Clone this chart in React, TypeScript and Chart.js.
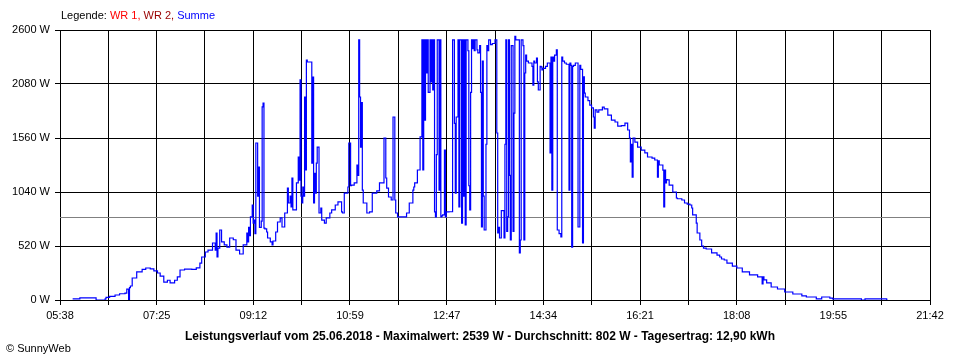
import React, { useEffect, useRef } from 'react';
import { Chart, registerables } from 'chart.js';

Chart.register(...registerables);

// ---- axis / summary data ----
const X_TICK_LABELS = ['05:38', '07:25', '09:12', '10:59', '12:47', '14:34', '16:21', '18:08', '19:55', '21:42'];
const X_MIN = 338; // 05:38 in minutes after midnight
const X_MAX = 1302; // 21:42
const Y_TICKS = [0, 520, 1040, 1560, 2080, 2600];
const AVERAGE_W = 802;
const MAXIMUM_W = 2539;
const DATE = '25.06.2018';
const YIELD_KWH = '12,90';

const SERIES_LABELS = ['WR 1', 'WR 2', 'Summe'];
const SERIES_COLORS = ['#ff0000', '#990000', '#0000ff'];

// ---- Summe (W) by time of day (minutes after midnight) ----
const timesMorning = [
  352, 360, 362, 378, 379, 388, 389, 393, 399, 404,
  410, 412, 413, 414, 415, 416, 418, 423, 429, 433,
  438, 442, 446, 449, 453, 457, 460, 462, 465, 468,
  471, 476, 484, 489, 493, 495, 499, 502, 507, 510,
  511, 512, 513, 515, 517, 520, 523, 526, 530, 533,
  537, 541, 545, 546, 547, 548, 549, 551, 552, 553,
  554, 555, 557, 558, 559, 561, 562, 563, 564, 565,
  567, 568, 571, 573, 574, 577, 579, 582, 584, 587,
  590, 591, 593, 594, 595, 596, 597, 600, 602, 603,
  604, 605, 606, 607, 608, 609, 610, 611, 612, 615,
  617, 618, 619, 620, 621, 622, 623, 625, 627, 628,
  631, 633, 637, 639, 643, 646, 650, 651, 653, 657,
  658, 660, 661, 664, 667, 668, 669, 670, 671, 672,
  673, 674, 678, 681, 684, 689, 692, 697, 699, 700,
  702, 705, 707, 709, 710, 712, 717, 722, 725, 729,
  730, 731, 734, 737, 739,
];
const powerMorning = [
  10, 10, 20, 20, 0, 0, 10, 26, 35, 48,
  60, 67, 104, 104, 0, 120, 135, 212, 270, 295,
  308, 300, 280, 260, 230, 173, 190, 165, 164, 190,
  222, 289, 298, 295, 310, 356, 414, 462, 481, 549,
  480, 645, 414, 500, 674, 560, 530, 510, 597, 580,
  481, 443, 530, 645, 560, 700, 620, 800, 915, 740,
  770, 640, 1512, 1000, 1280, 700, 760, 1860, 1897, 693,
  684, 655, 597, 560, 530, 568, 655, 751, 790, 703,
  838, 1078, 934, 1000, 896, 1175, 867, 867, 1127, 1377,
  1155, 2119, 1000, 934, 1088, 1000, 1955, 1252, 2311, 2292,
  2292, 1319, 2147, 934, 1220, 1030, 1319, 1473, 838, 886,
  770, 741, 790, 838, 867, 915, 944, 848, 838, 1030,
  1088, 1512, 1100, 1107, 1127, 1300, 1200, 2504, 1955, 1473,
  1900, 1059, 934, 838, 848, 1030, 1050, 1127, 1560, 1175,
  1078, 992, 963, 1762, 963, 838, 800, 800, 838, 934,
  1059, 1088, 1127, 1252, 1570,
];

const timesMidday = [
  740, 741, 742, 743, 744, 745, 746, 748, 749, 750,
  751, 752, 753, 754, 755, 756, 758, 759, 760, 761,
  762, 764, 765, 766, 769, 773, 775, 776, 777, 779,
  780, 781, 782, 783, 784, 785, 786, 787, 788, 790,
  791, 792, 793, 794, 795, 796, 797, 798, 800, 801,
  803, 804, 805, 806, 807, 808, 810, 811, 812, 813,
  815, 817, 820, 822, 823, 824, 825, 827, 830, 831,
  832, 833, 834, 835, 836, 837, 838, 840, 841, 842,
  843, 844, 846, 847, 848, 849, 851, 852, 853, 854,
  855, 857, 861, 862, 863, 864, 866, 867, 868, 870,
  871, 872, 873, 876, 878, 881, 882, 883, 884, 885,
  886, 888, 889, 891, 893, 894, 895, 897, 899, 902,
  903, 904, 905, 906, 907, 909, 912, 914, 915, 917,
  918, 919, 920, 923, 925, 927, 929, 930, 931, 933,
  935,
];
const powerMidday = [
  2504, 1252, 2504, 1733, 2504, 2186, 2504, 2000, 2504, 2100,
  2504, 2022, 2504, 848, 800, 1400, 2504, 1059, 2504, 800,
  810, 820, 1444, 800, 848, 850, 2504, 1700, 1030, 1762,
  2504, 896, 2504, 2504, 741, 2504, 1000, 2504, 722, 2504,
  2400, 1100, 867, 2000, 2504, 2420, 2504, 2400, 2504, 2408,
  2380, 2450, 2000, 703, 2300, 1000, 674, 1500, 2450, 2400,
  2504, 2460, 2470, 2504, 1608, 645, 700, 597, 860, 597,
  1500, 2504, 660, 800, 2504, 1200, 578, 2450, 660, 1800,
  2539, 2504, 2504, 2504, 453, 578, 2504, 2450, 578, 2186,
  2359, 2300, 2282, 2250, 2070, 2300, 2282, 2330, 2100, 2022,
  2250, 2244, 2215, 2230, 2250, 2282, 1416, 2340, 1059, 2340,
  2300, 2359, 2408, 674, 640, 607, 2340, 2300, 2282, 2270,
  1059, 2282, 2260, 510, 2250, 2260, 2282, 703, 2260, 2220,
  549, 2150, 1993, 1955, 1920, 1877, 1850, 1762, 1656, 1830,
  1810,
];

const timesAfternoon = [
  939, 941, 945, 949, 953, 956, 960, 964, 967, 969,
  970, 971, 972, 973, 974, 975, 978, 982, 986, 989,
  994, 997, 1000, 1001, 1002, 1006, 1007, 1008, 1009, 1010,
  1011, 1013, 1017, 1021, 1022, 1027, 1030, 1033, 1036, 1038,
  1039, 1043, 1044, 1047, 1049, 1051, 1054, 1060, 1066, 1069,
  1071, 1074, 1077, 1083, 1088, 1094, 1102, 1105, 1111, 1116,
  1117, 1118, 1121, 1126, 1133, 1141, 1150, 1160, 1165, 1176,
  1182, 1183, 1191, 1194, 1204, 1226, 1230, 1238, 1254, 1255,
];
const powerAfternoon = [
  1830, 1858, 1840, 1781, 1733, 1714, 1675, 1680, 1704, 1637,
  1560, 1329, 1500, 1184, 1560, 1560, 1521, 1473, 1444, 1416,
  1377, 1367, 1348, 1184, 1340, 1300, 1250, 896, 1250, 1127,
  1160, 1156, 1107, 1040, 982, 975, 963, 934, 924, 915,
  886, 819, 741, 645, 578, 520, 500, 491, 453, 433,
  414, 395, 385, 356, 327, 308, 270, 241, 241, 222,
  154, 222, 193, 164, 125, 106, 77, 58, 39, 29,
  10, 29, 29, 19, 10, 10, 0, 10, 10, 0,
];

const FONT = '"Liberation Sans", Arial, sans-serif';

const toPoints = (t: number[], p: number[]) => t.map((x, i) => ({ x, y: p[i] }));

export default function App() {
  const ref = useRef<HTMLCanvasElement | null>(null);

  useEffect(() => {
    if (!ref.current) return;
    const summe = [
      ...toPoints(timesMorning, powerMorning),
      ...toPoints(timesMidday, powerMidday),
      ...toPoints(timesAfternoon, powerAfternoon),
    ];

    const averagePlugin = {
      id: 'averageLine',
      beforeDatasetsDraw(chart: any) {
        const { ctx, chartArea, scales } = chart;
        const y = Math.round(scales.y.getPixelForValue(AVERAGE_W)) + 0.5;
        ctx.save();
        ctx.strokeStyle = '#808080';
        ctx.lineWidth = 1;
        ctx.beginPath();
        ctx.moveTo(chartArea.left, y);
        ctx.lineTo(chartArea.right, y);
        ctx.stroke();
        ctx.restore();
      },
    };

    const textPlugin = {
      id: 'texts',
      afterDraw(chart: any) {
        const ctx = chart.ctx;
        ctx.save();
        ctx.textBaseline = 'middle';
        ctx.textAlign = 'left';
        ctx.font = `11px ${FONT}`;
        let x = 61;
        const y = 16;
        ctx.fillStyle = '#000';
        const head = 'Legende: ';
        ctx.fillText(head, x, y);
        x += ctx.measureText(head).width;
        SERIES_LABELS.forEach((label, i) => {
          const txt = label + (i < SERIES_LABELS.length - 1 ? ', ' : '');
          ctx.fillStyle = SERIES_COLORS[i];
          ctx.fillText(txt, x, y);
          x += ctx.measureText(txt).width;
        });

        const title = `Leistungsverlauf vom ${DATE} - Maximalwert: ${MAXIMUM_W} W - Durchschnitt: ${AVERAGE_W} W - Tagesertrag: ${YIELD_KWH} kWh`;
        ctx.font = `bold 12px ${FONT}`;
        ctx.fillStyle = '#000';
        ctx.textAlign = 'center';
        ctx.fillText(title, chart.width / 2, 337);

        ctx.font = `11px ${FONT}`;
        ctx.textAlign = 'left';
        ctx.fillText('\u00A9 SunnyWeb', 6, 349);
        ctx.restore();
      },
    };

    const chart = new Chart(ref.current, {
      type: 'line',
      data: {
        datasets: [
          { label: SERIES_LABELS[0], data: [], borderColor: SERIES_COLORS[0], pointRadius: 0 },
          { label: SERIES_LABELS[1], data: [], borderColor: SERIES_COLORS[1], pointRadius: 0 },
          {
            label: SERIES_LABELS[2],
            data: summe,
            borderColor: SERIES_COLORS[2],
            borderWidth: 1.2,
            pointRadius: 0,
            stepped: 'after',
            fill: false,
          },
        ],
      },
      options: {
        animation: false,
        responsive: false,
        devicePixelRatio: 1,
        parsing: false as any,
        normalized: true,
        layout: { padding: { top: 30, right: 30, left: 0, bottom: 0 } },
        plugins: {
          legend: { display: false },
          title: { display: false },
          tooltip: { enabled: false },
        },
        scales: {
          x: {
            type: 'linear',
            min: X_MIN,
            max: X_MAX,
            afterBuildTicks(scale: any) {
              scale.ticks = Array.from({ length: 19 }, (_, i) => ({
                value: X_MIN + (i * (X_MAX - X_MIN)) / 18,
              }));
            },
            afterFit(scale: any) {
              scale.height = 60;
            },
            ticks: {
              autoSkip: false,
              maxRotation: 0,
              color: '#000',
              padding: 4,
              font: { family: FONT, size: 11 },
              callback: (_v: any, index: number) => (index % 2 === 0 ? X_TICK_LABELS[index / 2] : ''),
            },
            grid: { color: '#000', lineWidth: 1, tickLength: 5, drawTicks: true },
            border: { display: true, color: '#000', width: 1 },
          },
          y: {
            type: 'linear',
            min: 0,
            max: 2600,
            afterBuildTicks(scale: any) {
              scale.ticks = Y_TICKS.map((v) => ({ value: v }));
            },
            afterFit(scale: any) {
              scale.width = 60;
            },
            ticks: {
              color: '#000',
              padding: 5,
              font: { family: FONT, size: 11 },
              callback: (v: any) => `${v} W`,
            },
            grid: { color: '#000', lineWidth: 1, tickLength: 5, drawTicks: true },
            border: { display: true, color: '#000', width: 1 },
          },
        },
      },
      plugins: [averagePlugin, textPlugin],
    } as any);

    return () => chart.destroy();
  }, []);

  return (
    <div style={{ position: 'absolute', left: 0, top: 0, width: 960, height: 360, background: '#fff' }}>
      <canvas ref={ref} width={960} height={360} style={{ display: 'block' }} />
    </div>
  );
}
